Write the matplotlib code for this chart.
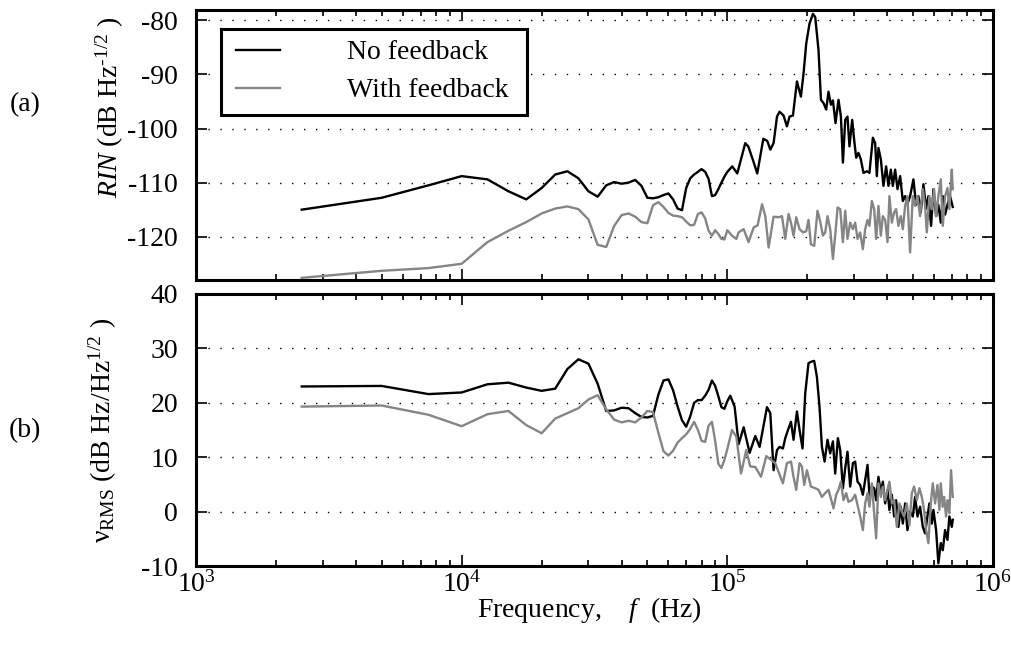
import numpy as np
import matplotlib
matplotlib.use("Agg")
import matplotlib.pyplot as plt
from matplotlib.ticker import LogLocator, NullFormatter, FixedLocator
from matplotlib.patches import Rectangle

plt.rcParams['font.family'] = ['Liberation Serif', 'DejaVu Serif']
plt.rcParams['mathtext.fontset'] = 'custom'
plt.rcParams['mathtext.rm'] = 'Liberation Serif'
plt.rcParams['mathtext.it'] = 'Liberation Serif:italic'
plt.rcParams['mathtext.bf'] = 'Liberation Serif:bold'
plt.rcParams['axes.unicode_minus'] = False

# ---------------- data (frequency in kHz) ----------------
LOW_F = [2.5, 5, 7.5, 10, 12.5, 15, 17.5, 20, 22.5, 25, 27.5, 30, 32.5, 35, 37.5, 40,
         42.5, 45, 47.5, 50, 52.5, 55, 57.5, 60, 62.5, 65, 67.5, 70, 72.5, 75, 77.5, 80,
         82.5, 85, 87.5, 90, 92.5, 95, 97.5, 100]

# (a) RIN, no feedback
RIN_NOFB_LOW = [-115, -112.8, -110.5, -108.8, -109.4, -111.6, -113.1, -111, -108.5, -107.9,
                -109.2, -111.6, -112.6, -110.5, -109.9, -110.2, -110, -109.5, -110.6, -112.8,
                -112.9, -112.7, -112.3, -112, -113.1, -114.8, -115.1, -111, -109.2, -108.5,
                -108, -107.5, -108, -109.3, -112.5, -112.3, -111.2, -110, -108.9, -108]
RIN_NOFB_HF = [104.4, 109.0, 116.8, 119.9, 125.2, 129.6, 136.6, 141.4, 145.1, 149.3, 153.8,
               157.2, 162.8, 167.6, 171.5, 176.6, 182.8, 189.2, 193.6, 198.1, 203.9, 210,
               214.2, 220.4, 225.1, 230.2, 235.6, 240.3, 245.4, 249.7, 255.4, 262.1, 267.6,
               272.3, 277.8, 283.3, 288.2, 295.1, 300.2, 305.5, 311.6, 318.1, 325.4, 335.1,
               342.7, 353, 360.1, 365.4, 370.5, 378.3, 386.9, 396.1, 404, 412.5, 419.7,
               428.2, 437.1, 447.1, 457.7, 466.9, 476.3, 487.5, 501.7, 513.5, 523.8, 534.8,
               547.1, 560, 571.2, 584.7, 596.6, 610.7, 622.8, 636, 647.1, 660.1, 673.9,
               689.3, 705.6]
RIN_NOFB_HV = [-107, -108.3, -102.7, -103.3, -106, -108.3, -101.9, -102.3, -103.9, -102.7,
               -97.8, -96.9, -97.6, -99.6, -97.8, -97.6, -91.3, -94.1, -89.8, -84.3, -80.6,
               -78.8, -79.4, -85.5, -94.7, -95.3, -96.5, -93.2, -95.6, -94.8, -99, -94.7,
               -97.8, -106.3, -98.4, -97.8, -103.3, -98.4, -102.1, -105.4, -104.5, -105.7,
               -108.2, -107.9, -108.2, -101.7, -102.7, -108.8, -103.6, -105.7, -110.6, -107,
               -110.6, -107.6, -110.6, -107.6, -111.2, -108.8, -113.4, -112.5, -113.9,
               -112.5, -109.4, -114.1, -112.5, -115.5, -110.3, -114.8, -112.5, -118, -111.2,
               -116.2, -114.1, -117.4, -112.5, -115.9, -114.1, -112.5, -114.5]

# (a) RIN, with feedback
RIN_FB_LOW = [-127.6, -126.3, -125.8, -125, -121, -118.9, -117.3, -115.7, -114.8, -114.4,
              -114.9, -116.8, -121.5, -121.9, -118, -116, -115.7, -116.3, -117.3, -117.5,
              -114.2, -113.6, -114.5, -115.6, -116.1, -116.2, -116.4, -117.2, -117.9, -117.8,
              -115.8, -115.5, -116.6, -118.9, -119.8, -118.8, -119.5, -120.4, -120.5, -118.8]
RIN_FB_HF = [104.1, 108.1, 110.3, 115.2, 120.2, 125.6, 130, 135.1, 139, 143, 149.3, 155.9,
             160.6, 165.2, 170, 173.6, 177.5, 181.7, 187, 192.6, 198.1, 202.1, 206.4, 212.3,
             218.5, 223.7, 229, 233.6, 238.3, 243.9, 249.7, 254.7, 260, 266, 272.3, 277.8,
             283.3, 290, 296.9, 302.8, 309.1, 316.2, 323.7, 330.2, 337.1, 342.7, 349.9, 357,
             363.2, 370.5, 378.3, 384.9, 392.7, 400.8, 407.5, 416.1, 424.5, 431.9, 440.5,
             449.8, 457.7, 466.9, 476.3, 487.5, 499, 509.1, 519.7, 531.6, 544.2, 555.1,
             563.3, 576.2, 588.3, 600.2, 610.7, 622.8, 636, 647.1, 660.1, 673.9, 685.1,
             699.6, 705.6]
RIN_FB_HV = [-119.8, -120.4, -119.2, -118.6, -121, -118.3, -117.9, -114, -116.2, -122, -116.3,
             -116.4, -116.2, -120.4, -115.8, -117.4, -119.8, -116.4, -118.6, -119.2, -119,
             -116.9, -121.4, -121.7, -115.2, -117.2, -119.8, -119.2, -116.2, -118.6, -124.1,
             -119.8, -114.6, -114.9, -121, -115.2, -120.4, -117.4, -118.6, -117.4, -120.4,
             -119.2, -122.3, -118.6, -116.9, -118, -113.4, -114.9, -120.4, -114.3, -119.8,
             -116.2, -116.9, -121, -112.5, -117.4, -115.5, -114.9, -118, -116.2, -118.6,
             -114.3, -112.5, -122.9, -112.5, -114.3, -112.5, -116.2, -111.2, -114.3, -119.2,
             -112.5, -114.9, -111.2, -116.2, -112.5, -109.4, -118, -112.5, -111, -114.9,
             -107.6, -111.2]

# (b) frequency noise, no feedback
NU_NOFB_LOW = [23, 23.1, 21.6, 21.9, 23.4, 23.7, 22.8, 22.2, 22.6, 26.2, 28, 27.2, 23.5, 18.5,
               18.6, 19.1, 19.0, 18.1, 17.4, 17.3, 17.6, 21.5, 24.1, 24.3, 22.3, 19.3, 16.8,
               15.6, 17.5, 20, 20.5, 20.5, 21.3, 22.4, 24.1, 23.1, 21.2, 19.2, 18.9, 20.3]
NU_NOFB_HF = [102.6, 106.5, 110.3, 115.2, 121.3, 127.4, 132.3, 141, 145.1, 149.3, 153.8, 157.2,
              161.9, 165.2, 170, 173.6, 177.5, 182.8, 187, 191.9, 196.4, 202.1, 208.2, 212.3,
              217.3, 222.3, 227, 232.3, 238.3, 243.9, 249.7, 254.7, 260.7, 266, 272.3, 277.8,
              283.3, 290, 296.9, 302.8, 309.1, 316.2, 323.7, 330.2, 337.1, 342.7, 349.9, 357,
              363.2, 370.5, 378.3, 384.9, 392.7, 400.8, 407.5, 416.1, 424.5, 431.9, 440.5,
              449.8, 457.7, 466.9, 476.3, 487.5, 499, 509.1, 519.7, 531.6, 544.2, 555.1,
              566.4, 576.2, 588.3, 596.6, 610.7, 622.8, 636, 647.1, 660.1, 673.9, 685.1,
              699.6, 705.6]
NU_NOFB_HV = [21.3, 19.3, 12.4, 15.5, 10.8, 13.9, 11.9, 19.2, 18.1, 7.6, 11.3, 11.9, 11.6,
              13.5, 15.3, 16.5, 13.2, 18.4, 15, 11.6, 21.7, 27.3, 27.6, 27.7, 24.8, 19.3,
              11.9, 9.2, 13.2, 10.7, 12.9, 7, 13.5, 11.3, 4.3, 8, 11, 4.6, 8.9, 9.2, 5.5,
              4.9, 3.1, 5.8, 8.6, 3.1, 4.6, 4.3, 2.1, 6.4, 3.4, 5.5, 1.5, 4, 0.3, 3.1, -0.9,
              2.1, -2.8, 0.9, -2.2, 1.5, -3.4, 0, -0.9, 2.7, -0.9, 0.9, -2.8, -4, -0.9, 1.5,
              -2.2, 0.3, -3.4, -9.5, -5.8, -7.1, -3.4, -5.2, -0.9, -2.8, -1.5]

# (b) frequency noise, with feedback
NU_FB_LOW = [19.3, 19.5, 17.8, 15.7, 17.9, 18.5, 15.9, 14.4, 17.1, 18.1, 19, 20.6, 21.4, 18.8,
             16.9, 16.4, 16.7, 16.4, 17.3, 18.5, 18.3, 14.5, 11.1, 10.3, 11.2, 12.7, 13.5,
             14.2, 15.2, 16.5, 15, 13, 12.8, 15.8, 16.5, 13, 8.8, 8, 9.5, 11.5]
NU_FB_HF = [104.1, 108.1, 112.6, 117.8, 122, 127.4, 133.9, 140.2, 146, 151.5, 155.9, 161.9,
            167.6, 173.6, 177.5, 181.7, 187, 190.9, 194.7, 199.3, 206.4, 214.2, 220.4, 227,
            233.6, 240.3, 245.4, 251, 256.9, 262.1, 267.6, 273.7, 280.2, 285.7, 294.3, 302.8,
            309.1, 316.2, 323.7, 330.2, 337.1, 342.7, 349.9, 357, 363.2, 370.5, 378.3, 384.9,
            392.7, 400.8, 407.5, 416.1, 424.5, 434.5, 444.4, 453.8, 462.9, 473.8, 484.5,
            494.8, 504.7, 516.6, 528.4, 539.5, 550.4, 560, 571.2, 583.2, 593.4, 605.4, 618,
            628.3, 636, 647.1, 654.4, 665.9, 673.9, 685.1, 695.3, 705.6]
NU_FB_HV = [15, 13.8, 7, 11.3, 8.3, 8.2, 6.4, 10.2, 9.5, 8.9, 7.3, 5.2, 8.9, 9.2, 6.4, 4, 8.9,
            8.3, 4.9, 7.6, 4.6, 4.3, 4, 2.7, 3.4, 4, 2.4, 0.6, 3.1, 4, 5.5, 2.1, 3.4, 1.8, 2.1,
            3.1, 1.2, -0.9, -3.4, 1.5, 3.4, 0.9, 5.2, -0.3, -4.9, 5.2, 2.7, 4.6, 2.1, 4, 5.5,
            1.5, 2.1, -2.8, 1.5, 0, -0.9, 1.5, -2.5, 3.4, 4.6, 2.1, 4.3, 2.7, 0.3, -3.4, -5.8,
            1.5, 5.2, 1.5, 4.9, 0.3, 5.2, 0.9, 2.7, -0.9, 2.1, -0.3, 7.6, 2.7]

LABELS = ["No feedback", "With feedback"]
RIN_TICKS = [-120, -110, -100, -90, -80]
NU_TICKS = [-10, 0, 10, 20, 30, 40]

# ---------------- figure ----------------
W, H = 1012, 650
fig = plt.figure(figsize=(W / 100, H / 100), dpi=100)
L, R = 196, 993
ax1 = fig.add_axes([L / W, 1 - 280 / H, (R - L) / W, (280 - 9.5) / H])
ax2 = fig.add_axes([L / W, 1 - 566 / H, (R - L) / W, (566 - 294) / H])

GREY = '#858585'
LW = 1.7


def hz(lo, hi):
    return np.concatenate([np.asarray(lo, float), np.asarray(hi, float)]) * 1e3


def cat(a, b):
    return np.concatenate([np.asarray(a, float), np.asarray(b, float)])


ax1.plot(hz(LOW_F, RIN_NOFB_HF), cat(RIN_NOFB_LOW, RIN_NOFB_HV), color='black', lw=LW,
         label=LABELS[0])
ax1.plot(hz(LOW_F, RIN_FB_HF), cat(RIN_FB_LOW, RIN_FB_HV), color=GREY, lw=LW,
         label=LABELS[1])
ax2.plot(hz(LOW_F, NU_NOFB_HF), cat(NU_NOFB_LOW, NU_NOFB_HV), color='black', lw=LW)
ax2.plot(hz(LOW_F, NU_FB_HF), cat(NU_FB_LOW, NU_FB_HV), color=GREY, lw=LW)

FS = 20
for ax in (ax1, ax2):
    ax.set_xscale('log')
    ax.set_xlim(1e3, 1e6)
    ax.xaxis.set_major_locator(LogLocator(base=10, numticks=10))
    ax.xaxis.set_minor_locator(LogLocator(base=10, subs=np.arange(2, 10), numticks=20))
    ax.xaxis.set_minor_formatter(NullFormatter())
    ax.yaxis.grid(True, linestyle=(0, (1, 7.6)), color='black', lw=1.0)
    ax.xaxis.grid(False)
    ax.tick_params(which='both', direction='in', top=True, right=True, width=1.2,
                   labelsize=FS)
    ax.tick_params(which='major', length=8)
    ax.tick_params(which='minor', length=4.5)
    ax.tick_params(axis='y', pad=13)
    ax.tick_params(axis='x', pad=4)
    for s in ax.spines.values():
        s.set_linewidth(2.2)

ax1.set_ylim(-128, -78)
ax1.yaxis.set_major_locator(FixedLocator(RIN_TICKS))
ax1.tick_params(labelbottom=False)
ax2.set_ylim(-10, 40)
ax2.yaxis.set_major_locator(FixedLocator(NU_TICKS))

# legend (frame drawn separately to match the box size)
leg = ax1.legend(loc='upper left', bbox_to_anchor=(236 / W, 1 - 40 / H),
                 bbox_transform=fig.transFigure, borderaxespad=0, borderpad=0,
                 fontsize=FS, frameon=False, handlelength=1.6, handletextpad=2.4,
                 labelspacing=0.45)
fig.patches.append(Rectangle((221 / W, 1 - 115 / H), (527 - 221) / W, (115 - 29) / H,
                             transform=fig.transFigure, fill=True, facecolor='white',
                             edgecolor='black', lw=2.2, zorder=4))
leg.set_zorder(6)
leg.remove()
fig.add_artist(leg)
leg.set_zorder(6)

fig.text(25 / W, 1 - 105 / H, "(a)", ha='center', va='center', fontsize=FS)
fig.text(25 / W, 1 - 431 / H, "(b)", ha='center', va='center', fontsize=FS)
fig.text(110 / W, 1 - 107 / H, "$RIN$ (dB Hz$^{\u2010 1/2}$ )", rotation=90,
         ha='center', va='center', fontsize=20)
fig.text(103 / W, 1 - 430 / H, "ν$_{\\rm RMS}$ (dB Hz/Hz$^{1/2}$ )", rotation=90,
         ha='center', va='center', fontsize=20)
fig.text(589 / W, 1 - 610 / H, "Frequency,    $f$  (Hz)", ha='center', va='center',
         fontsize=20)

fig.savefig("out.png", dpi=100)
